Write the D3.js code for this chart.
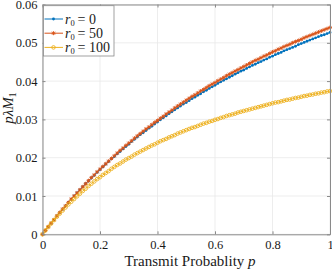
<!DOCTYPE html>
<html><head><meta charset="utf-8">
<script src="https://cdn.jsdelivr.net/npm/d3@7"></script>
<style>body{margin:0;background:#fff}svg{display:block}text{font-family:"Liberation Serif","DejaVu Serif",serif;fill:#1a1a1a}</style>
</head><body><svg id="c" width="332" height="269"></svg>
<script>
const pValues = d3.range(0, 101).map(k => k / 100);
const seriesNames = ["r0 = 0", "r0 = 50", "r0 = 100"];
const r0Labels = ["0", "50", "100"];
const valsR0_0 = [0,0.0010,0.0020,0.0029,0.0038,0.0048,0.0057,0.0065,0.0074,0.0083,0.0091,0.0100,0.0108,0.0116,0.0124,0.0132,0.0139,0.0147,0.0154,0.0162,0.0169,0.0176,0.0183,0.0190,0.0197,0.0203,0.0210,0.0216,0.0223,0.0229,0.0235,0.0242,0.0248,0.0254,0.0260,0.0265,0.0271,0.0277,0.0282,0.0288,0.0293,0.0299,0.0304,0.0309,0.0315,0.0320,0.0325,0.0330,0.0335,0.0340,0.0344,0.0349,0.0354,0.0358,0.0363,0.0367,0.0372,0.0376,0.0381,0.0385,0.0389,0.0394,0.0398,0.0402,0.0406,0.0410,0.0414,0.0418,0.0422,0.0426,0.0429,0.0433,0.0437,0.0441,0.0444,0.0448,0.0451,0.0455,0.0458,0.0462,0.0465,0.0469,0.0472,0.0475,0.0479,0.0482,0.0485,0.0488,0.0491,0.0495,0.0498,0.0501,0.0504,0.0507,0.0510,0.0513,0.0516,0.0519,0.0521,0.0524,0.0527];
const valsR0_50 = [0,0.0010,0.0020,0.0029,0.0038,0.0048,0.0057,0.0066,0.0074,0.0083,0.0092,0.0100,0.0108,0.0116,0.0124,0.0132,0.0140,0.0148,0.0155,0.0163,0.0170,0.0177,0.0184,0.0191,0.0198,0.0205,0.0212,0.0219,0.0225,0.0232,0.0238,0.0244,0.0251,0.0257,0.0263,0.0269,0.0275,0.0280,0.0286,0.0292,0.0297,0.0303,0.0308,0.0314,0.0319,0.0324,0.0330,0.0335,0.0340,0.0345,0.0350,0.0355,0.0360,0.0364,0.0369,0.0374,0.0378,0.0383,0.0388,0.0392,0.0396,0.0401,0.0405,0.0409,0.0414,0.0418,0.0422,0.0426,0.0430,0.0434,0.0438,0.0442,0.0446,0.0450,0.0454,0.0457,0.0461,0.0465,0.0468,0.0472,0.0476,0.0479,0.0483,0.0486,0.0490,0.0493,0.0496,0.0500,0.0503,0.0506,0.0509,0.0513,0.0516,0.0519,0.0522,0.0525,0.0528,0.0531,0.0534,0.0537,0.0540];
const valsR0_100 = [0,0.0010,0.0019,0.0028,0.0037,0.0046,0.0054,0.0062,0.0070,0.0078,0.0085,0.0092,0.0099,0.0106,0.0113,0.0119,0.0126,0.0132,0.0138,0.0144,0.0149,0.0155,0.0160,0.0165,0.0171,0.0176,0.0181,0.0185,0.0190,0.0195,0.0199,0.0203,0.0208,0.0212,0.0216,0.0220,0.0224,0.0228,0.0232,0.0235,0.0239,0.0243,0.0246,0.0249,0.0253,0.0256,0.0259,0.0263,0.0266,0.0269,0.0272,0.0275,0.0278,0.0280,0.0283,0.0286,0.0289,0.0291,0.0294,0.0296,0.0299,0.0301,0.0304,0.0306,0.0309,0.0311,0.0313,0.0315,0.0318,0.0320,0.0322,0.0324,0.0326,0.0328,0.0330,0.0332,0.0334,0.0336,0.0338,0.0340,0.0342,0.0344,0.0345,0.0347,0.0349,0.0351,0.0352,0.0354,0.0356,0.0357,0.0359,0.0361,0.0362,0.0364,0.0365,0.0367,0.0368,0.0370,0.0371,0.0373,0.0374];
const xTicks = [0, 0.2, 0.4, 0.6, 0.8, 1];
const xTickLabels = ["0", "0.2", "0.4", "0.6", "0.8", "1"];
const yTicks = [0, 0.01, 0.02, 0.03, 0.04, 0.05, 0.06];
const yTickLabels = ["0", "0.01", "0.02", "0.03", "0.04", "0.05", "0.06"];
const colors = ["#0072BD", "#D95319", "#EDB120"];
const markers = ["dot", "star", "circle"];
const seriesVals = [valsR0_0, valsR0_50, valsR0_100];

const svg = d3.select("#c");
const L = 42.5, R = 330, T = 4.5, B = 234.3;
const x = d3.scaleLinear().domain([0, 1]).range([L, R]);
const y = d3.scaleLinear().domain([0, 0.06]).range([B, T]);
const axCol = "#8a8a8a";

// grid
const g = svg.append("g");
g.selectAll(".gx").data(xTicks).join("line").attr("x1", d => x(d)).attr("x2", d => x(d))
  .attr("y1", T).attr("y2", B).attr("stroke", "#e8e8e8").attr("stroke-width", 0.8);
g.selectAll(".gy").data(yTicks).join("line").attr("y1", d => y(d)).attr("y2", d => y(d))
  .attr("x1", L).attr("x2", R).attr("stroke", "#e8e8e8").attr("stroke-width", 0.8);

function drawMarker(sel, type, color) {
  if (type === "dot") {
    sel.append("circle").attr("r", 1.4).attr("fill", color);
  } else if (type === "star") {
    sel.append("path").attr("d", "M-2,0H2M0,-2V2M-1.5,-1.5L1.5,1.5M-1.5,1.5L1.5,-1.5")
      .attr("stroke", color).attr("stroke-width", 0.9).attr("fill", "none");
  } else {
    sel.append("circle").attr("r", 1.8).attr("fill", "none").attr("stroke", color).attr("stroke-width", 0.9);
  }
}

const line = d3.line().x((d, i) => x(pValues[i])).y(d => y(d));
seriesVals.forEach((vals, s) => {
  const sg = svg.append("g");
  sg.append("path").datum(vals).attr("d", line).attr("fill", "none")
    .attr("stroke", colors[s]).attr("stroke-width", 1);
  vals.forEach((v, i) => {
    const m = sg.append("g").attr("transform", `translate(${x(pValues[i])},${y(v)})`);
    drawMarker(m, markers[s], colors[s]);
  });
});

// axes
const xa = svg.append("g").attr("transform", `translate(0,${B})`)
  .call(d3.axisBottom(x).tickValues(xTicks).tickFormat((d, i) => xTickLabels[i]).tickSizeInner(-3).tickSizeOuter(0).tickPadding(6));
const xt = svg.append("g").attr("transform", `translate(0,${T})`)
  .call(d3.axisTop(x).tickValues(xTicks).tickFormat("").tickSizeInner(-3).tickSizeOuter(0));
const ya = svg.append("g").attr("transform", `translate(${L},0)`)
  .call(d3.axisLeft(y).tickValues(yTicks).tickFormat((d, i) => yTickLabels[i]).tickSizeInner(-3).tickSizeOuter(0).tickPadding(5));
const yr = svg.append("g").attr("transform", `translate(${R},0)`)
  .call(d3.axisRight(y).tickValues(yTicks).tickFormat("").tickSizeInner(-3).tickSizeOuter(0));
[xa, xt, ya, yr].forEach(a => {
  a.selectAll("path").attr("stroke", axCol).attr("stroke-width", 1);
  a.selectAll("line").attr("stroke", axCol);
  a.selectAll("text").attr("font-family", '"Liberation Serif", serif').attr("font-size", 12.5).attr("fill", "#1a1a1a");
});

// x label
const xl = svg.append("text").attr("x", 190).attr("y", 266).attr("text-anchor", "middle").attr("font-size", 15);
xl.append("tspan").text("Transmit Probablity ");
xl.append("tspan").attr("font-style", "italic").text("p");

// y label
const yl = svg.append("text").attr("transform", "translate(13,108) rotate(-90)").attr("text-anchor", "middle").attr("font-size", 15);
yl.append("tspan").attr("font-style", "italic").text("pλM");
yl.append("tspan").attr("font-size", 9.5).attr("dy", 3).text("1");

// legend
const lg = svg.append("g");
lg.append("rect").attr("x", 43.5).attr("y", 5.7).attr("width", 70.5).attr("height", 50.3)
  .attr("fill", "#fff").attr("stroke", axCol).attr("stroke-width", 0.8);
seriesNames.forEach((nm, s) => {
  const cy = 19 + s * 14.2;
  lg.append("line").attr("x1", 44.5).attr("x2", 63).attr("y1", cy).attr("y2", cy).attr("stroke", colors[s]).attr("stroke-width", 1);
  const m = lg.append("g").attr("transform", `translate(53.5,${cy})`);
  drawMarker(m, markers[s], colors[s]);
  const t = lg.append("text").attr("x", 65).attr("y", cy + 4.5).attr("font-size", 14);
  t.append("tspan").attr("font-style", "italic").text("r");
  t.append("tspan").attr("font-size", 8.5).attr("dy", 2.5).text("0");
  t.append("tspan").attr("dy", -2.5).text("\u2009= " + r0Labels[s]);
});
</script></body></html>
